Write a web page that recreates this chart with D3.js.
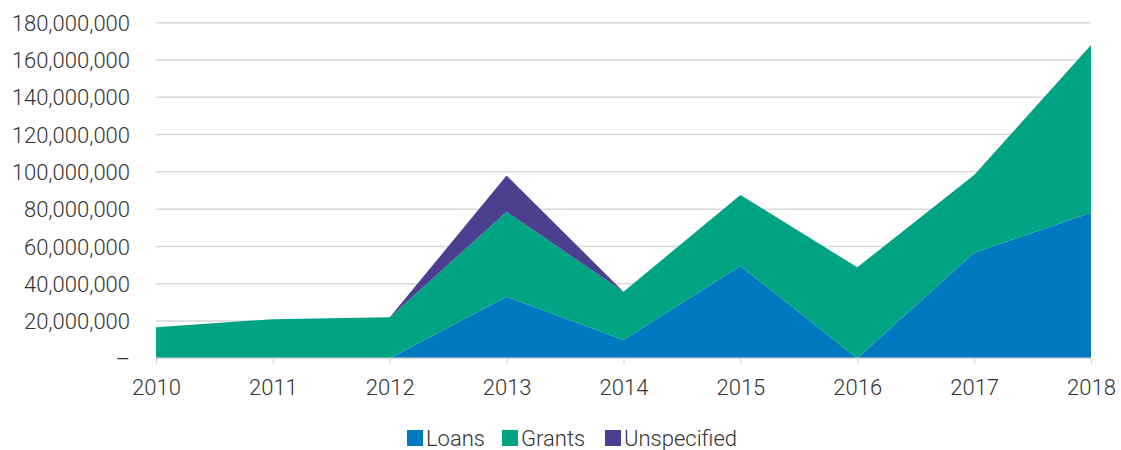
<!DOCTYPE html>
<html><head><meta charset="utf-8">
<script src="https://cdn.jsdelivr.net/npm/d3@7"></script>
<style>body{margin:0;background:#fff}svg{display:block;font-family:Roboto,sans-serif}</style>
</head><body><svg id="c" width="1121" height="450"></svg>
<script>
const years = ["2010","2011","2012","2013","2014","2015","2016","2017","2018"];
const loans = [0, 0, 0, 33000000, 9800000, 49500000, 0, 56600000, 78100000];
const grants = [16600000, 21000000, 22000000, 45600000, 25900000, 38100000, 48800000, 41700000, 89900000];
const unspecified = [0, 0, 0, 19400000, 0, 0, 0, 0, 0];
const seriesNames = ["Loans", "Grants", "Unspecified"];
const colors = ["#0079c1", "#00a482", "#4b3f8f"];
const yTicks = [0, 20000000, 40000000, 60000000, 80000000, 100000000, 120000000, 140000000, 160000000, 180000000];

const svg = d3.select("#c");
const x = d3.scalePoint().domain(years).range([156, 1091]);
const y = d3.scaleLinear().domain([0, 180000000]).range([358.3, 22.7]);

const table = years.map((yr, i) => ({year: yr, Loans: loans[i], Grants: grants[i], Unspecified: unspecified[i]}));
const stack = d3.stack().keys(seriesNames)(table);

// gridlines
svg.append("g").selectAll("line").data(yTicks.filter(d => d > 0)).join("line")
  .attr("x1", 156).attr("x2", 1091).attr("y1", d => y(d)).attr("y2", d => y(d))
  .attr("stroke", "#d9d9d9").attr("stroke-width", 1.5);

const area = d3.area().x(d => x(d.data.year)).y0(d => y(d[0])).y1(d => y(d[1]));
svg.append("g").selectAll("path").data(stack).join("path")
  .attr("d", area).attr("fill", (d, i) => colors[i]);

const fs = 22;
// y axis labels
const yAxis = d3.axisLeft(y).tickValues(yTicks).tickSize(0).tickPadding(0)
  .tickFormat(d => d === 0 ? "\u2013" : d3.format(",")(d));
const yg = svg.append("g").attr("transform", "translate(130,0)").call(yAxis);
yg.select(".domain").remove();
yg.selectAll("text").attr("font-size", fs).attr("fill", "#333").attr("font-family", "Roboto").attr("font-weight", 300).attr("dy", "0.35em");

// x axis
const xAxis = d3.axisBottom(x).tickSize(5).tickPadding(16);
const xg = svg.append("g").attr("transform", "translate(0,358.3)").call(xAxis);
xg.select(".domain").attr("stroke", "#d9d9d9").attr("stroke-width", 1.5).attr("d", "M156,0H1091");
xg.selectAll(".tick line").attr("stroke", "#d9d9d9").attr("stroke-width", 1.5);
xg.selectAll("text").attr("font-size", fs).attr("fill", "#333").attr("font-family", "Roboto").attr("font-weight", 300);

// legend
const legendX = [407, 502, 605];
const lg = svg.append("g");
seriesNames.forEach((n, i) => {
  lg.append("rect").attr("x", legendX[i]).attr("y", 430).attr("width", 16).attr("height", 16).attr("fill", colors[i]);
  lg.append("text").attr("x", legendX[i] + 19).attr("y", 446).attr("font-size", fs).attr("fill", "#333")
    .attr("font-weight", 300).text(n);
});
</script></body></html>
